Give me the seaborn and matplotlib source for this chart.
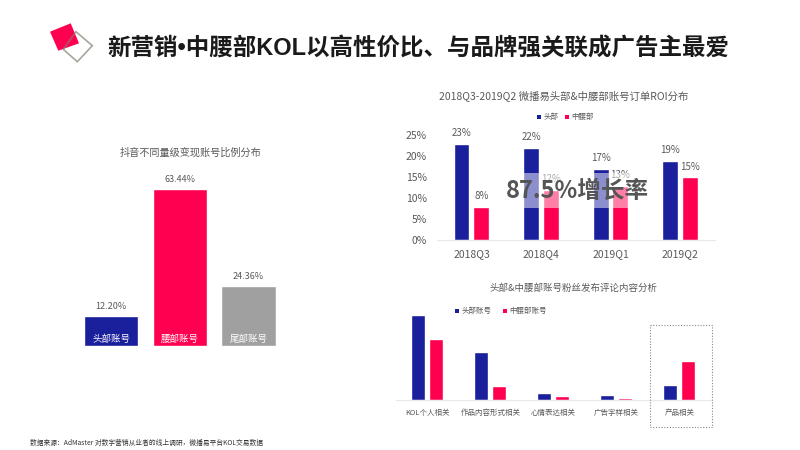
import matplotlib
matplotlib.use('Agg')
import matplotlib.pyplot as plt
import pandas as pd
import seaborn as sns
from matplotlib.patches import Polygon, Rectangle

sns.set_theme(style='white')
plt.rcParams['font.family'] = ['Noto Sans CJK SC', 'DejaVu Sans']

NAVY = '#1a1f9c'
RED = '#ff0050'
GREY = '#a0a0a0'
TEXT = '#595959'

title = '新营销•中腰部KOL以高性价比、与品牌强关联成广告主最爱'
source = '数据来源：AdMaster 对数字营销从业者的线上调研，微播易平台KOL交易数据'

# 左图
level_names = ['头部账号', '腰部账号', '尾部账号']
level_values = [12.20, 63.44, 24.36]

# 右上
quarters = ['2018Q3', '2018Q4', '2019Q1', '2019Q2']
roi_top = [23, 22, 17, 19]
roi_mid = [8, 12, 13, 15]

# 右下
topics = ['KOL个人相关', '作品内容形式相关', '心情表达相关', '广告字样相关', '产品相关']
comment_top = [42.5, 24.0, 3.2, 2.3, 7.3]
comment_mid = [30.3, 6.8, 1.7, 0.8, 19.3]

W, H = 800, 450
fig = plt.figure(figsize=(8, 4.5), dpi=100, facecolor='white')


def px_axes(x0, y0, x1, y1):
    # 像素坐标（左上角为原点）建坐标轴
    ax = fig.add_axes([x0 / W, 1 - y1 / H, (x1 - x0) / W, (y1 - y0) / H])
    ax.patch.set_alpha(0)
    return ax


def long_table(cats, a, b, names):
    return pd.DataFrame({
        'cat': cats * 2,
        'series': [names[0]] * len(cats) + [names[1]] * len(cats),
        'value': a + b,
    })


# 左图
ax1 = px_axes(77, 160, 282.75, 346)
df1 = pd.DataFrame({'cat': level_names, 'value': level_values})
sns.barplot(data=df1, x='cat', y='value', hue='cat', palette=[NAVY, RED, GREY],
            width=0.79, saturation=1, legend=False, ax=ax1)
ax1.set_ylim(0, 186 / 2.48)
ax1.set_axis_off()
for i, v in enumerate(level_values):
    ax1.text(i, v + 1.9, f'{v:.2f}%', ha='center', va='bottom', fontsize=6.5, color=TEXT)
    ax1.text(i, 2.8, level_names[i], ha='center', va='center', fontsize=6.8, color='white')

# 右上
ax2 = px_axes(436.7, 115, 714.8, 240.3)
df2 = long_table(quarters, roi_top, roi_mid, ['头部', '中腰部'])
sns.barplot(data=df2, x='cat', y='value', hue='series', palette=[NAVY, RED],
            width=0.566, gap=0.2, saturation=1, legend=False, ax=ax2)
ax2.set_ylim(0, 125.3 / 4.2)
ax2.set_yticks([0, 5, 10, 15, 20, 25])
ax2.set_yticklabels([f'{t}%' for t in [0, 5, 10, 15, 20, 25]], fontsize=7.5, color=TEXT)
ax2.tick_params(axis='x', labelsize=7.5, labelcolor=TEXT, length=0, pad=6)
ax2.tick_params(axis='y', length=0, pad=7)
ax2.set_xlabel('')
ax2.set_ylabel('')
sns.despine(ax=ax2, left=True)
ax2.spines['bottom'].set_color('#e8e8e8')
ax2.spines['bottom'].set_linewidth(0.8)
for c, vals in zip(ax2.containers, [roi_top, roi_mid]):
    ax2.bar_label(c, labels=[f'{v}%' for v in vals], fontsize=7, color=TEXT, padding=4)

# 右下
ax3 = px_axes(395.8, 310, 710.8, 399.7)
df3 = long_table(topics, comment_top, comment_mid, ['头部账号', '中腰部账号'])
sns.barplot(data=df3, x='cat', y='value', hue='series', palette=[NAVY, RED],
            width=0.571, gap=0.22, saturation=1, legend=False, ax=ax3)
ax3.set_ylim(0, 89.7 / 2)
ax3.set_yticks([])
ax3.set_xlabel('')
ax3.set_ylabel('')
ax3.tick_params(axis='x', labelsize=5.4, labelcolor=TEXT, length=0, pad=7)
sns.despine(ax=ax3, left=True)
ax3.spines['bottom'].set_color('#e8e8e8')
ax3.spines['bottom'].set_linewidth(0.8)

# 整页覆盖层：标题、图例、水印、logo
ov = fig.add_axes([0, 0, 1, 1], zorder=5)
ov.set_xlim(0, W)
ov.set_ylim(H, 0)
ov.set_axis_off()
ov.patch.set_alpha(0)

ov.add_patch(Polygon([(50, 31.7), (70.7, 23.3), (79, 43.3), (58.3, 50.7)], closed=True, fc=RED, ec='none'))
ov.add_patch(Polygon([(76, 31.7), (92.3, 45.7), (77.3, 61.7), (63.3, 49.3)],
                     closed=True, fill=False, ec='#808070', lw=1.2, alpha=0.7))
ov.text(107, 49.5, title, fontsize=16.9, fontweight='bold', color='#1a1a1a', va='center',
        family=['Liberation Sans', 'Noto Sans CJK SC'])

ov.text(191, 153, '抖音不同量级变现账号比例分布', fontsize=7.3, color=TEXT, ha='center', va='center')
ov.text(563.5, 95.5, '2018Q3-2019Q2 微播易头部&中腰部账号订单ROI分布', fontsize=7.5, color=TEXT, ha='center', va='center')
ov.text(574, 288, '头部&中腰部账号粉丝发布评论内容分析', fontsize=6.8, color=TEXT, ha='center', va='center')
ov.text(30, 443, source, fontsize=4.85, color='#333333', va='center')

# 图例
for x, y, c, s in [(539, 117, NAVY, '头部'), (567, 117, RED, '中腰部'),
                   (456.7, 310.5, NAVY, '头部账号'), (505, 310.5, RED, '中腰部账号')]:
    ov.add_patch(Rectangle((x - 2, y - 2), 4, 4, fc=c, ec='none'))
    ov.text(x + 4.5, y, s, fontsize=5.4, color=TEXT, va='center')

# 虚线框
ov.add_patch(Rectangle((649.5, 324.5), 62, 102, fill=False, ec='#888888', lw=0.8, ls=(0, (1, 1.5))))

# 水印
ov.add_patch(Rectangle((505, 173), 145, 35, fc='white', ec='none', alpha=0.5))
ov.text(577, 191, '87.5%增长率', fontsize=17, fontweight='bold', color='#555555', ha='center', va='center')

fig.savefig('out.png', dpi=100)
